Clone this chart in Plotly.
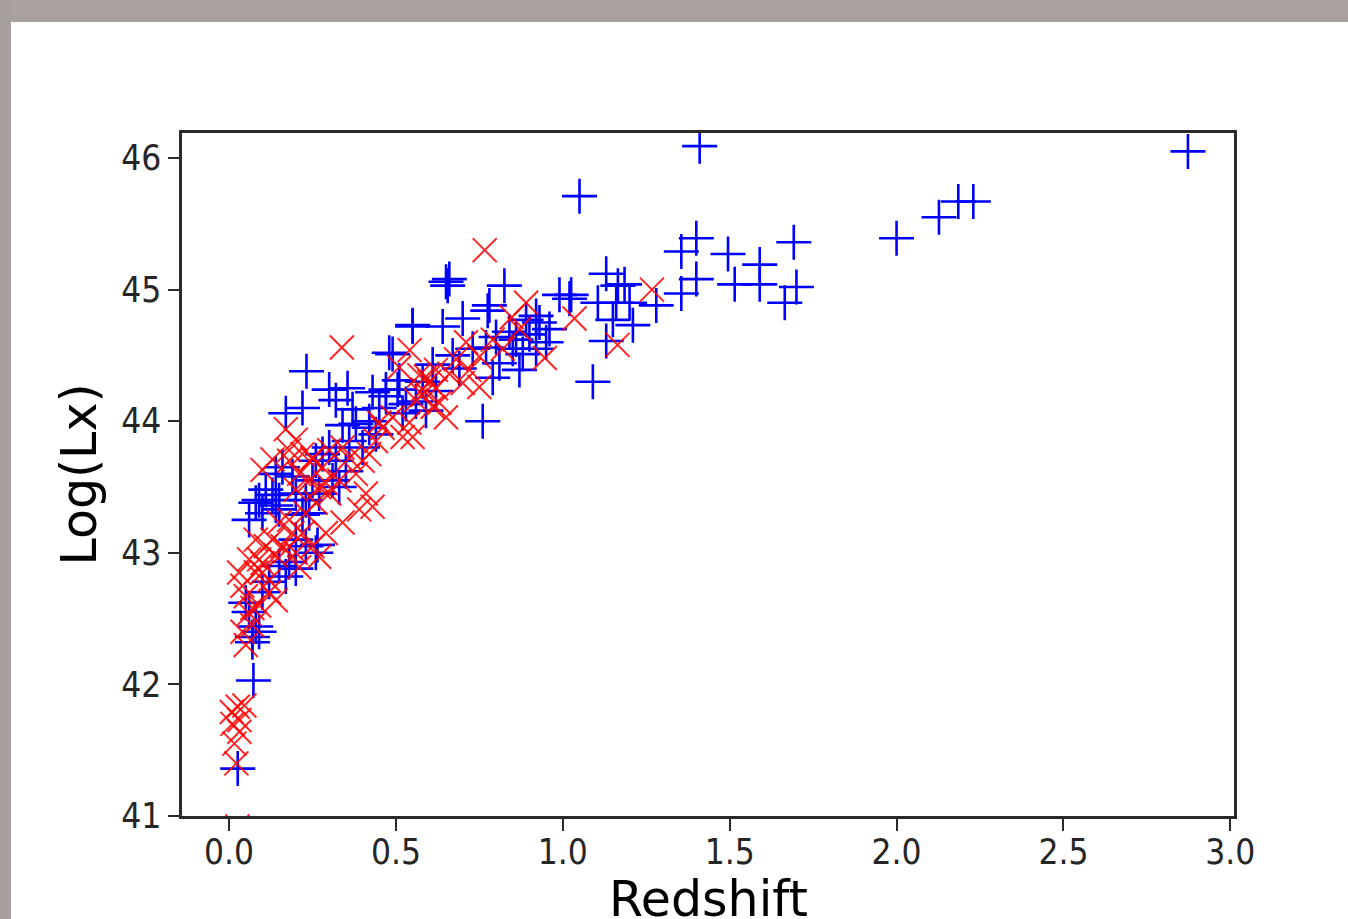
import plotly.graph_objects as go

# ---- data ----
blue_z = [2.873, 1.41, 1.05, 2.00, 2.127, 2.185, 2.23, 1.692, 1.70, 1.665,
          1.59, 1.59, 1.515, 1.495, 1.40, 1.355, 1.40, 1.355, 1.28, 1.185,
          1.13, 1.165, 1.105, 1.16, 1.20, 1.15, 1.21, 1.13, 1.09, 1.025,
          0.99, 0.65, 0.655, 0.66, 0.825, 0.775, 0.78, 0.70, 0.64, 0.55,
          0.49, 0.89, 0.92, 1.02, 0.80, 0.77, 0.84, 0.86, 0.88, 0.81,
          0.87, 0.79, 0.76, 0.51, 0.47, 0.42, 0.52, 0.59, 0.62, 0.56,
          0.93, 0.96, 0.95, 0.90, 0.92, 0.85, 0.232, 0.30, 0.355, 0.32,
          0.17, 0.22, 0.37, 0.505, 0.47, 0.48, 0.55, 0.38, 0.42, 0.44,
          0.34, 0.36, 0.40, 0.30, 0.32, 0.28, 0.26, 0.31, 0.35, 0.33,
          0.25, 0.23, 0.27, 0.24, 0.20, 0.19, 0.15, 0.14, 0.16, 0.09,
          0.13, 0.06, 0.14, 0.10, 0.15, 0.08, 0.11, 0.15, 0.18, 0.20,
          0.17, 0.06, 0.07, 0.08, 0.07, 0.09, 0.073, 0.026, 0.20, 0.23,
          0.26, 0.10, 0.12, 0.05, 0.22, 0.265, 0.43, 0.61, 0.67, 0.73,
          0.69, 0.53, 0.58, 0.45]
blue_lx = [46.05, 46.09, 45.71, 45.39, 45.55, 45.67, 45.67, 45.36, 45.02, 44.90,
           45.19, 45.04, 45.04, 45.27, 45.39, 45.29, 45.08, 44.97, 44.88, 45.04,
           45.12, 45.03, 44.90, 44.90, 44.90, 44.77, 44.73, 44.61, 44.30, 44.96,
           44.96, 45.06, 45.03, 45.08, 45.03, 44.84, 44.88, 44.78, 44.72, 44.72,
           44.51, 44.77, 44.80, 44.93, 44.64, 44.56, 44.68, 44.62, 44.51, 44.44,
           44.39, 44.33, 44.00, 44.31, 44.24, 44.00, 44.06, 44.08, 44.23, 44.15,
           44.75, 44.70, 44.60, 44.66, 44.55, 44.55, 44.38, 44.24, 44.25, 44.16,
           44.06, 44.10, 44.09, 44.24, 44.19, 44.52, 44.73, 43.98, 43.95, 43.90,
           43.97, 43.85, 43.80, 43.80, 43.70, 43.75, 43.70, 43.55, 43.62, 43.50,
           43.55, 43.40, 43.45, 43.30, 43.45, 43.58, 43.40, 43.60, 43.65, 43.40,
           43.44, 43.25, 43.36, 43.30, 43.33, 43.38, 43.48, 42.90, 42.93, 42.88,
           42.82, 42.55, 42.36, 42.44, 42.32, 42.40, 42.03, 41.36, 43.10, 43.05,
           43.00, 42.70, 42.78, 42.62, 43.29, 43.06, 44.22, 44.43, 44.50, 44.55,
           44.40, 44.13, 44.30, 44.10]

red_z = [0.766, 0.338, 0.541, 0.89, 1.267, 1.035, 1.164, 0.946, 0.847, 0.87,
         0.79, 0.75, 0.72, 0.70, 0.59, 0.62, 0.51, 0.58, 0.63, 0.49,
         0.45, 0.52, 0.65, 0.56, 0.61, 0.54, 0.55, 0.75, 0.57, 0.60,
         0.62, 0.58, 0.10, 0.17, 0.20, 0.22, 0.18, 0.25, 0.28, 0.30,
         0.34, 0.36, 0.40, 0.38, 0.33, 0.27, 0.24, 0.21, 0.30, 0.39,
         0.34, 0.41, 0.44, 0.46, 0.42, 0.43, 0.29, 0.25, 0.20, 0.12,
         0.08, 0.05, 0.06, 0.14, 0.21, 0.27, 0.15, 0.13, 0.18, 0.25,
         0.20, 0.29, 0.26, 0.23, 0.03, 0.04, 0.06, 0.09, 0.11, 0.13,
         0.16, 0.19, 0.22, 0.18, 0.08, 0.12, 0.09, 0.07, 0.04, 0.10,
         0.022, 0.016, 0.031, 0.026, 0.008, 0.046, 0.031, 0.01, 0.025, 0.68,
         0.66, 0.82, 0.71, 0.05, 0.07, 0.10, 0.14, 0.17]
red_lx = [45.30, 44.56, 44.54, 44.90, 45.00, 44.78, 44.58, 44.48, 44.79, 44.70,
          44.62, 44.49, 44.39, 44.29, 44.34, 44.39, 44.41, 44.24, 44.14, 44.03,
          43.99, 43.88, 44.03, 44.16, 44.11, 43.99, 43.88, 44.26, 44.35, 44.30,
          44.25, 44.20, 43.63, 43.94, 43.86, 43.75, 43.70, 43.72, 43.65, 43.78,
          43.80, 43.72, 43.70, 43.60, 43.55, 43.50, 43.55, 43.60, 43.45, 43.33,
          43.23, 43.45, 43.85, 43.95, 43.75, 43.35, 43.15, 43.05, 43.00, 42.79,
          42.85, 42.67, 42.54, 42.64, 42.89, 42.97, 43.23, 43.71, 43.78, 43.71,
          43.48, 43.53, 43.38, 43.30, 42.85, 42.75, 42.95, 42.95, 43.05, 43.10,
          43.05, 43.15, 43.15, 43.25, 43.10, 42.70, 42.60, 42.45, 42.40, 42.85,
          41.40, 41.55, 41.64, 41.83, 41.79, 41.84, 41.73, 41.70, 40.92, 44.47,
          44.36, 44.55, 44.60, 42.30, 42.58, 42.92, 42.98, 43.02]

x_ticks = [0.0, 0.5, 1.0, 1.5, 2.0, 2.5, 3.0]
y_ticks = [41, 42, 43, 44, 45, 46]

fig = go.Figure()
fig.add_trace(go.Scatter(
    x=blue_z, y=blue_lx, mode="markers", showlegend=False,
    marker=dict(symbol="cross-thin", size=25, color="#0000ff",
                line=dict(color="#0000ff", width=2.6)),
))
fig.add_trace(go.Scatter(
    x=red_z, y=red_lx, mode="markers", showlegend=False,
    marker=dict(symbol="x-thin", size=24, color="#ff0000", opacity=0.85,
                line=dict(color="#ff0000", width=2.0)),
))

tick_font = dict(family="DejaVu Sans Condensed, DejaVu Sans",
                 size=35, color="#262626")
title_font = dict(family="DejaVu Sans", size=49, color="#000000")

fig.update_layout(
    width=1348, height=919, autosize=False,
    margin=dict(l=182, r=114, t=133, b=103),
    paper_bgcolor="white", plot_bgcolor="white",
    xaxis=dict(range=[-0.141, 3.011], tickvals=x_ticks,
               ticktext=[f"{v:.1f}" for v in x_ticks],
               showgrid=False, zeroline=False, showline=True, mirror=True,
               linecolor="#2b2b2b", linewidth=2.5, automargin=False,
               ticks="outside", ticklen=12, tickwidth=2, tickcolor="#2b2b2b",
               tickfont=tick_font, ticklabelstandoff=-9),
    yaxis=dict(range=[41.0, 46.19], tickvals=y_ticks,
               ticktext=[str(v) for v in y_ticks],
               showgrid=False, zeroline=False, showline=True, mirror=True,
               linecolor="#2b2b2b", linewidth=2.5, automargin=False,
               ticks="outside", ticklen=11, tickwidth=2, tickcolor="#2b2b2b",
               tickfont=tick_font,
               title=dict(text="Log(Lx)", font=title_font, standoff=10)),
    annotations=[
        dict(text="Redshift", xref="paper", yref="paper",
             x=0.5, y=(816 - 899) / 683, xanchor="center", yanchor="middle",
             showarrow=False, font=title_font),
    ],
    shapes=[
        dict(type="rect", xref="paper", yref="paper", layer="below",
             x0=-0.2, x1=1.2, y0=(816 - 22) / 683, y1=1.3,
             fillcolor="#a9a19d", line=dict(width=0)),
        dict(type="rect", xref="paper", yref="paper", layer="below",
             x0=-0.2, x1=(11 - 182) / 1052, y0=-0.3, y1=1.3,
             fillcolor="#a8a09c", line=dict(width=0)),
    ],
)

fig.write_html("out.html")
